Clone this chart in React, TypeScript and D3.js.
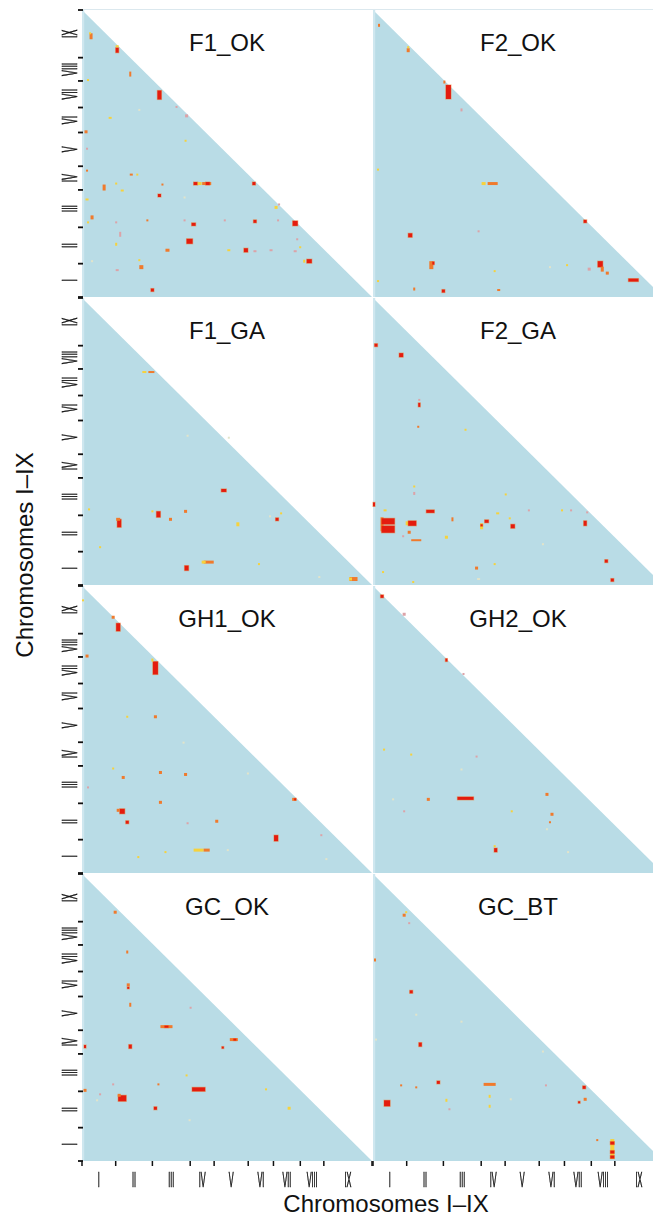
import * as d3 from 'd3';

const CHROMS = ['I', 'II', 'III', 'IV', 'V', 'VI', 'VII', 'VIII', 'IX'];
const CHROM_LEN = [33.5, 36.5, 37.6, 23.8, 33.9, 25.1, 26.7, 23.4, 47.9];

// hotspot cells: [x pos, y pos, width, height, colour class]
const F1_OK = [
  [9, 262, 3, 6, 'o'], [8, 265, 2, 2, 'y'], [35, 248, 3, 5, 'r'], [35, 252, 3, 2, 'y'],
  [48, 224, 2, 5, 'o'], [77, 203, 4, 9, 'r'], [94, 191, 2, 2, 'p'], [104, 182, 3, 3, 'p'],
  [6, 218, 2, 2, 'y'], [28, 180, 3, 2, 'y'], [57, 188, 2, 2, 'w'], [4, 166, 3, 3, 'o'],
  [5, 149, 2, 2, 'p'], [103, 157, 2, 2, 'y'], [5, 127, 2, 2, 'o'], [49, 123, 3, 2, 'o'],
  [55, 123, 2, 2, 'y'], [22, 110, 3, 6, 'o'], [34, 114, 2, 2, 'y'], [40, 107, 3, 2, 'y'],
  [80, 113, 2, 2, 'o'], [77, 102, 3, 3, 'r'], [102, 100, 2, 2, 'w'], [113, 114, 4, 3, 'r'],
  [117, 114, 4, 3, 'y'], [124, 114, 9, 3, 'o'], [125, 114, 4, 3, 'r'], [171, 114, 3, 3, 'r'],
  [196, 93, 2, 2, 'p'], [193, 90, 3, 3, 'y'], [5, 98, 3, 2, 'y'], [10, 80, 3, 4, 'o'],
  [6, 75, 2, 2, 'y'], [34, 75, 2, 2, 'p'], [65, 77, 2, 2, 'o'], [102, 77, 2, 2, 'p'],
  [111, 73, 4, 3, 'r'], [142, 77, 2, 2, 'p'], [172, 76, 3, 3, 'r'], [195, 77, 2, 2, 'p'],
  [212, 74, 5, 5, 'r'], [38, 63, 2, 5, 'p'], [107, 56, 6, 5, 'r'], [34, 53, 2, 3, 'y'],
  [85, 47, 4, 3, 'o'], [146, 47, 3, 2, 'y'], [163, 47, 4, 4, 'r'], [172, 46, 3, 2, 'p'],
  [188, 47, 3, 2, 'p'], [212, 46, 3, 2, 'p'], [214, 58, 2, 2, 'p'], [217, 50, 2, 2, 'y'],
  [226, 36, 5, 4, 'r'], [221, 36, 2, 3, 'y'], [10, 36, 2, 2, 'w'], [57, 37, 2, 2, 'y'],
  [59, 30, 4, 4, 'o'], [35, 27, 3, 2, 'p'], [70, 7, 3, 3, 'r'],
];
const F2_OK = [
  [6, 273, 2, 3, 'o'], [35, 248, 3, 4, 'o'], [35, 251, 2, 2, 'y'], [71, 216, 2, 3, 'o'],
  [75, 206, 5, 14, 'r'], [88, 188, 2, 3, 'p'], [5, 128, 2, 2, 'y'], [110, 114, 4, 3, 'y'],
  [119, 114, 10, 3, 'o'], [37, 62, 4, 4, 'r'], [105, 66, 2, 2, 'p'], [211, 76, 3, 3, 'r'],
  [58, 32, 4, 8, 'o'], [60, 34, 2, 3, 'r'], [121, 26, 2, 2, 'y'], [176, 30, 2, 2, 'w'],
  [193, 32, 2, 2, 'y'], [215, 28, 3, 3, 'p'], [226, 33, 5, 6, 'r'], [228, 28, 3, 5, 'o'],
  [233, 24, 3, 3, 'o'], [259, 17, 10, 3, 'r'], [41, 8, 2, 3, 'o'], [125, 7, 3, 2, 'o'],
  [70, 6, 3, 3, 'r'], [5, 16, 2, 2, 'y'],
];
const F1_GA = [
  [62, 214, 4, 2, 'y'], [69, 214, 6, 2, 'o'], [141, 95, 5, 3, 'r'], [103, 74, 3, 3, 'o'],
  [7, 76, 2, 2, 'y'], [37, 62, 4, 8, 'r'], [36, 66, 4, 3, 'o'], [76, 71, 4, 6, 'r'],
  [70, 74, 2, 2, 'y'], [88, 66, 3, 3, 'o'], [155, 61, 3, 4, 'y'], [187, 69, 2, 2, 'w'],
  [194, 66, 3, 3, 'r'], [198, 72, 2, 2, 'y'], [18, 38, 2, 2, 'y'], [104, 17, 4, 5, 'r'],
  [126, 23, 10, 3, 'o'], [121, 23, 4, 3, 'y'], [176, 21, 2, 2, 'y'], [270, 6, 8, 4, 'o'],
  [267, 6, 3, 3, 'y'], [236, 8, 2, 2, 'w'], [105, 150, 2, 2, 'w'], [146, 148, 2, 2, 'w'],
];
const F2_GA = [
  [1, 81, 2, 4, 'r'], [41, 92, 2, 3, 'p'], [41, 99, 2, 2, 'y'], [57, 74, 8, 3, 'r'],
  [9, 61, 3, 14, 'o'], [15, 64, 13, 6, 'r'], [15, 56, 13, 7, 'r'], [34, 62, 3, 4, 'y'],
  [39, 62, 8, 5, 'r'], [36, 53, 3, 3, 'o'], [30, 49, 2, 2, 'p'], [43, 45, 10, 2, 'o'],
  [73, 48, 3, 3, 'y'], [79, 66, 2, 4, 'o'], [113, 64, 4, 3, 'r'], [108, 59, 3, 6, 'y'],
  [108, 60, 2, 2, 'r'], [136, 67, 2, 2, 'y'], [139, 59, 4, 4, 'r'], [124, 72, 3, 2, 'y'],
  [155, 75, 2, 2, 'p'], [188, 75, 2, 2, 'y'], [197, 75, 2, 2, 'p'], [211, 62, 3, 5, 'r'],
  [213, 73, 2, 2, 'p'], [12, 75, 3, 2, 'y'], [103, 17, 3, 3, 'o'], [105, 6, 3, 2, 'w'],
  [121, 21, 2, 2, 'y'], [10, 13, 2, 2, 'y'], [40, 3, 2, 2, 'y'], [132, 91, 2, 2, 'y'],
  [3, 241, 3, 3, 'r'], [28, 231, 4, 4, 'r'], [46, 181, 2, 4, 'r'], [46, 186, 2, 2, 'p'],
  [45, 159, 2, 2, 'o'], [92, 156, 2, 2, 'y'], [232, 24, 3, 3, 'r'], [238, 5, 3, 3, 'r'],
  [169, 41, 2, 2, 'w'],
];
const GH1_OK = [
  [36, 247, 4, 8, 'r'], [31, 257, 3, 3, 'o'], [1, 274, 2, 2, 'y'], [5, 218, 3, 3, 'o'],
  [73, 206, 5, 13, 'r'], [70, 214, 2, 3, 'y'], [45, 157, 2, 2, 'y'], [73, 157, 3, 3, 'o'],
  [101, 131, 2, 2, 'w'], [31, 105, 2, 2, 'y'], [41, 96, 3, 3, 'o'], [78, 101, 3, 3, 'o'],
  [103, 99, 3, 3, 'o'], [165, 100, 2, 2, 'w'], [211, 74, 4, 3, 'o'], [212, 74, 2, 2, 'r'],
  [40, 62, 5, 5, 'r'], [36, 63, 3, 3, 'o'], [45, 51, 3, 3, 'r'], [105, 50, 2, 2, 'p'],
  [78, 71, 3, 3, 'o'], [134, 52, 3, 3, 'o'], [193, 35, 4, 6, 'r'], [238, 38, 2, 2, 'p'],
  [116, 23, 10, 3, 'y'], [124, 23, 6, 3, 'o'], [145, 23, 2, 2, 'w'], [83, 21, 2, 2, 'y'],
  [56, 16, 2, 2, 'y'], [243, 14, 2, 2, 'w'], [6, 86, 2, 2, 'p'],
];
const GH2_OK = [
  [9, 278, 3, 3, 'r'], [31, 260, 3, 3, 'p'], [73, 214, 2, 3, 'r'], [90, 200, 2, 2, 'p'],
  [11, 124, 2, 2, 'y'], [38, 119, 2, 2, 'y'], [88, 104, 2, 2, 'w'], [103, 117, 2, 2, 'p'],
  [55, 74, 3, 3, 'o'], [92, 75, 16, 3, 'r'], [173, 79, 3, 3, 'o'], [178, 59, 3, 3, 'o'],
  [176, 51, 2, 2, 'o'], [138, 62, 2, 2, 'y'], [31, 62, 2, 2, 'p'], [20, 74, 2, 2, 'w'],
  [122, 23, 3, 4, 'r'], [121, 27, 2, 2, 'y'], [194, 21, 2, 2, 'w'], [173, 44, 2, 2, 'w'],
];
const GC_OK = [
  [33, 250, 3, 3, 'o'], [45, 210, 2, 3, 'o'], [46, 177, 3, 3, 'o'], [46, 174, 2, 2, 'r'],
  [48, 157, 2, 4, 'o'], [108, 154, 2, 2, 'p'], [84, 135, 12, 3, 'o'], [84, 135, 4, 2, 'r'],
  [48, 115, 3, 4, 'r'], [3, 115, 2, 3, 'r'], [151, 122, 8, 3, 'o'], [152, 122, 3, 2, 'r'],
  [140, 114, 2, 2, 'r'], [104, 86, 2, 2, 'y'], [76, 77, 2, 2, 'o'], [31, 77, 2, 2, 'p'],
  [18, 67, 2, 2, 'p'], [3, 71, 3, 3, 'o'], [116, 72, 13, 4, 'r'], [73, 53, 3, 3, 'r'],
  [40, 63, 8, 6, 'r'], [37, 66, 3, 3, 'o'], [15, 61, 2, 2, 'w'], [183, 72, 2, 2, 'y'],
  [206, 53, 3, 3, 'y'], [107, 41, 2, 2, 'w'],
];
const GC_BT = [
  [31, 247, 3, 3, 'o'], [33, 250, 2, 2, 'y'], [36, 239, 2, 2, 'p'], [2, 202, 2, 3, 'o'],
  [38, 170, 3, 3, 'r'], [47, 117, 3, 4, 'r'], [14, 58, 6, 6, 'r'], [28, 76, 2, 2, 'o'],
  [43, 74, 2, 2, 'o'], [65, 79, 3, 3, 'r'], [73, 61, 2, 3, 'y'], [76, 52, 2, 2, 'p'],
  [116, 77, 12, 3, 'o'], [116, 65, 2, 3, 'y'], [116, 55, 2, 3, 'y'], [137, 62, 2, 2, 'w'],
  [172, 76, 2, 2, 'p'], [210, 74, 3, 3, 'r'], [211, 62, 3, 3, 'o'], [205, 59, 2, 2, 'r'],
  [238, 12, 4, 20, 'y'], [238, 18, 4, 3, 'r'], [238, 9, 4, 3, 'r'], [238, 4, 4, 3, 'r'],
  [223, 21, 2, 2, 'o'], [169, 110, 2, 2, 'w'], [88, 140, 2, 2, 'w'], [43, 147, 2, 2, 'w'],
  [3, 122, 2, 2, 'w'],
];

const PANEL_NAMES = ['F1_OK', 'F2_OK', 'F1_GA', 'F2_GA', 'GH1_OK', 'GH2_OK', 'GC_OK', 'GC_BT'];
const PANEL_SPOTS = [F1_OK, F2_OK, F1_GA, F2_GA, GH1_OK, GH2_OK, GC_OK, GC_BT];

const COLORS: Record<string, string> = {
  r: '#e41c0e',
  o: '#f07a2c',
  y: '#f6d23c',
  p: '#dca3a8',
  w: '#e2e4ca',
};
const BG = '#b9dce6';

const W = 653, H = 1218;
const COL_X = [82, 373];
const PANEL_W = 290;
const ROW_Y0 = 10, ROW_STEP = 288, PANEL_H = 287;
const FONT = 'Liberation Sans, Arial, Helvetica, sans-serif';

const total = d3.sum(CHROM_LEN);
const bounds = [0, ...d3.cumsum(CHROM_LEN)];
const mids = CHROM_LEN.map((l, i) => bounds[i] + l / 2);

function Panel({ idx }: { idx: number }) {
  const col = idx % 2, row = Math.floor(idx / 2);
  const left = COL_X[col];
  const top = ROW_Y0 + row * ROW_STEP;
  const bottom = top + PANEL_H;
  const x = d3.scaleLinear().domain([0, total]).range([left, left + PANEL_W]);
  const y = d3.scaleLinear().domain([0, total]).range([bottom, top]);
  const tri = d3.line()([[x(0), y(0)], [x(0), y(total)], [x(total), y(0)]]) + 'Z';
  const spots = PANEL_SPOTS[idx] as [number, number, number, number, string][];
  return (
    <g>
      <path d={tri} fill={BG} />
      <rect x={x(0)} y={y(total)} width={x(2.2) - x(0)} height={y(0) - y(total)} fill="#cfe7ef" />
      {spots.map(([cx, cy, w, h, c], i) => (
        <g key={i}>
          {c === 'r' && (
            <rect x={x(cx - w / 2 - 0.6)} y={y(cy + h / 2 + 0.6)}
              width={x(w + 1.2) - x(0)} height={y(0) - y(h + 1.2)}
              fill={COLORS.o} opacity={0.55} />
          )}
          <rect x={x(cx - w / 2)} y={y(cy + h / 2)}
            width={x(w) - x(0)} height={y(0) - y(h)} fill={COLORS[c]} />
        </g>
      ))}
      <text x={(x(0) + x(total)) / 2} y={top + 41} textAnchor="middle"
        fontFamily={FONT} fontSize={24} fill="#111">{PANEL_NAMES[idx]}</text>
      {col === 0 && bounds.map((b, i) => (
        <line key={'yt' + i} x1={78} x2={83} y1={y(b)} y2={y(b)} stroke="#111" strokeWidth={1.8} />
      ))}
      {col === 0 && (
        <g filter="url(#gray)">
          {mids.map((m, i) => (
            <text key={'yl' + i} transform={`translate(77,${y(m)}) rotate(-90) scale(0.4,1)`}
              textAnchor="middle" fontFamily={FONT} fontSize={22} fill="#111"
              stroke="#111" strokeWidth={0.7}>{CHROMS[i]}</text>
          ))}
        </g>
      )}
      {row === 3 && bounds.map((b, i) => (
        <line key={'xt' + i} x1={x(b)} x2={x(b)} y1={bottom} y2={bottom + 5} stroke="#111" strokeWidth={1.5} />
      ))}
      {row === 3 && (
        <g filter="url(#gray)">
          {mids.map((m, i) => (
            <text key={'xl' + i} transform={`translate(${x(m)},1187) scale(0.33,1)`}
              textAnchor="middle" fontFamily={FONT} fontSize={22} fill="#111"
              stroke="#111" strokeWidth={0.7}>{CHROMS[i]}</text>
          ))}
        </g>
      )}
    </g>
  );
}

export default function App() {
  return (
    <svg width={W} height={H} style={{ position: 'absolute', left: 0, top: 0, background: '#fff' }}>
      <defs>
        <filter id="gray" x="-0.2" y="-0.2" width="1.4" height="1.4">
          <feColorMatrix type="saturate" values="0" />
        </filter>
      </defs>
      <line x1={82} x2={W} y1={9.5} y2={9.5} stroke="#dbe8ee" strokeWidth={1} />
      {PANEL_NAMES.map((_, i) => <Panel key={i} idx={i} />)}
      <text x={386} y={1212} textAnchor="middle" fontFamily={FONT} fontSize={24} fill="#111">
        Chromosomes I–IX
      </text>
      <text transform="translate(33,555) rotate(-90)" textAnchor="middle" fontFamily={FONT}
        fontSize={24} fill="#111">Chromosomes I–IX</text>
    </svg>
  );
}
